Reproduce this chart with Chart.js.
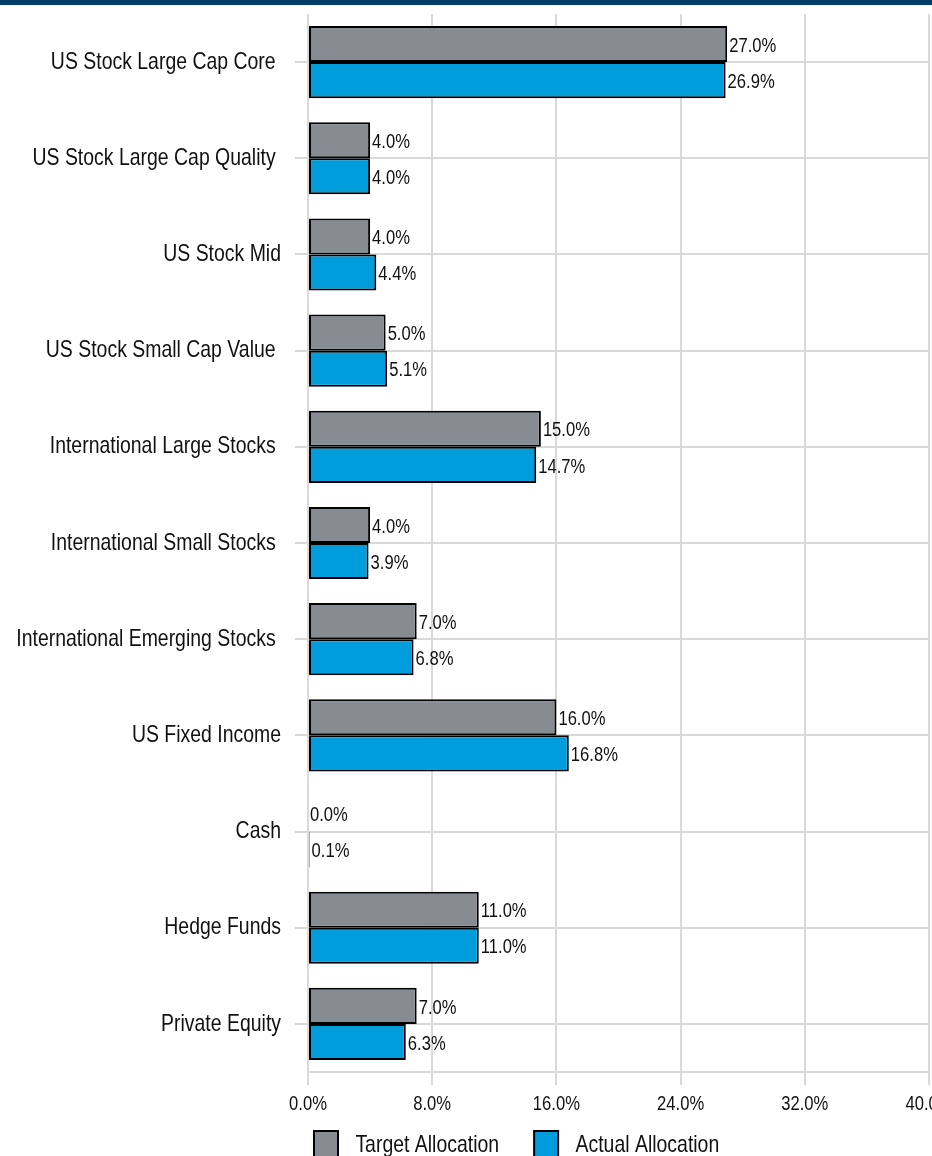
<!DOCTYPE html>
<html>
<head>
<meta charset="utf-8">
<script src="https://cdn.jsdelivr.net/npm/chart.js@4.4.1/dist/chart.umd.min.js"></script>
<style>
  html, body { margin: 0; padding: 0; background: #fff; overflow: hidden; }
  #wrap { width: 932px; height: 1156px; overflow: hidden; position: relative; }
  canvas { display: block; }
</style>
</head>
<body>
<div id="wrap"><canvas id="alloc" width="932" height="1156"></canvas></div>
<script>
// Asset allocation: target vs actual
const categories = [
    "US Stock Large Cap Core ",
    "US Stock Large Cap Quality ",
    "US Stock Mid",
    "US Stock Small Cap Value ",
    "International Large Stocks ",
    "International Small Stocks ",
    "International Emerging Stocks ",
    "US Fixed Income",
    "Cash",
    "Hedge Funds",
    "Private Equity"
];
const targetAllocation = [27.0, 4.0, 4.0, 5.0, 15.0, 4.0, 7.0, 16.0, 0.0, 11.0, 7.0];
const actualAllocation = [26.9, 4.0, 4.4, 5.1, 14.7, 3.9, 6.8, 16.8, 0.1, 11.0, 6.3];
const xTicks = [0, 8, 16, 24, 32, 40];

const FONT = "'Liberation Sans', Arial, sans-serif";
const GRID = "#d9d9d9";
const TEXT = "#111";

const pct = v => Number(v).toFixed(1) + "%";

const canvas = document.getElementById("alloc");
const ctx = canvas.getContext("2d");

// no narrow font installed, so squeeze the text horizontally instead
const SQUEEZE = 0.81;
const rawFill = ctx.fillText;
const rawMeasure = ctx.measureText;
ctx.fillText = function (text, x, y) {
    this.save();
    this.translate(x, y);
    this.scale(SQUEEZE, 1);
    rawFill.call(this, text, 0, 0);
    this.restore();
};
ctx.measureText = function (text) {
    const m = rawMeasure.call(this, text);
    return {
        width: m.width * SQUEEZE,
        actualBoundingBoxAscent: m.actualBoundingBoxAscent,
        actualBoundingBoxDescent: m.actualBoundingBoxDescent,
        actualBoundingBoxLeft: m.actualBoundingBoxLeft * SQUEEZE,
        actualBoundingBoxRight: m.actualBoundingBoxRight * SQUEEZE
    };
};

// dark band across the top
const topBand = {
    id: "topBand",
    beforeDraw(chart) {
        const c = chart.ctx;
        c.save();
        c.fillStyle = "#003d6b";
        c.fillRect(0, 0, chart.width, 5);
        c.restore();
    }
};

// legend sits under the axis labels, lined up with the plot
const legendSpot = {
    id: "legendSpot",
    afterLayout(chart) {
        chart.legend.left = 279;
        chart.legend.top = 1096;
    }
};

// value labels at the end of every bar
const barValues = {
    id: "barValues",
    afterDatasetsDraw(chart) {
        const c = chart.ctx;
        c.save();
        c.font = "20.5px " + FONT;
        c.fillStyle = TEXT;
        c.textAlign = "left";
        c.textBaseline = "middle";
        chart.data.datasets.forEach((ds, i) => {
            chart.getDatasetMeta(i).data.forEach((bar, j) => {
                c.fillText(pct(ds.data[j]), bar.x + 2, bar.y + 2);
            });
        });
        c.restore();
    }
};

new Chart(ctx, {
    type: "bar",
    data: {
        labels: categories,
        datasets: [{
                label: "Target Allocation",
                data: targetAllocation,
                backgroundColor: "#878c93",
                borderColor: "#000",
                borderWidth: 2,
                borderSkipped: false,
                categoryPercentage: 0.75,
                barPercentage: 1.0
            },
            {
                label: "Actual Allocation",
                data: actualAllocation,
                backgroundColor: "#009ddc",
                borderColor: "#000",
                borderWidth: 2,
                borderSkipped: false,
                categoryPercentage: 0.75,
                barPercentage: 1.0
            }
        ]
    },
    options: {
        indexAxis: "y",
        responsive: false,
        animation: false,
        layout: { padding: { top: 14, left: 0, right: 3, bottom: 0 } },
        scales: {
            x: {
                min: 0,
                max: 40,
                afterBuildTicks: s => { s.ticks = xTicks.map(v => ({ value: v })); },
                afterFit: s => { s.height = 46; s.paddingLeft = 0; s.paddingRight = 0; },
                ticks: {
                    callback: v => pct(v),
                    font: { family: FONT, size: 20.5 },
                    color: TEXT,
                    padding: 7,
                    maxRotation: 0
                },
                grid: { color: GRID, lineWidth: 2, tickLength: 13 },
                border: { display: true, color: GRID, width: 2 }
            },
            y: {
                afterFit: s => { s.width = 308; s.paddingTop = 0; s.paddingBottom = 0; },
                ticks: {
                    font: { family: FONT, size: 24 },
                    color: TEXT,
                    padding: 14,
                    autoSkip: false
                },
                grid: { color: GRID, lineWidth: 2, tickLength: 13, offset: false },
                border: { display: false }
            }
        },
        plugins: {
            legend: {
                position: "bottom",
                align: "start",
                maxHeight: 38,
                labels: {
                    font: { family: FONT, size: 24 },
                    color: TEXT,
                    boxWidth: 24,
                    boxHeight: 28,
                    padding: 35,
                    generateLabels: chart => Chart.defaults.plugins.legend.labels.generateLabels(chart)
                        .map(item => Object.assign(item, { text: " " + item.text }))
                }
            },
            tooltip: { enabled: false }
        }
    },
    plugins: [topBand, legendSpot, barValues]
});
</script>
</body>
</html>
